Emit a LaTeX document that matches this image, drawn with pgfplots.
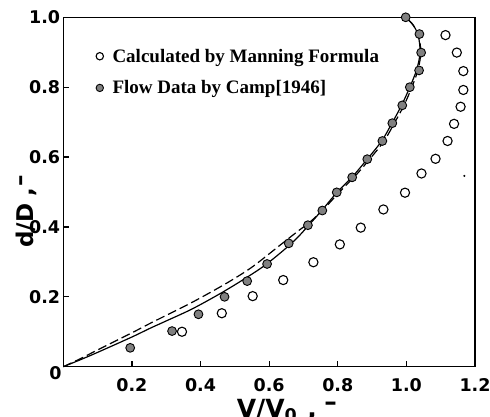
\documentclass[border=0pt]{standalone}
\usepackage{pgfplots}
\pgfplotsset{compat=1.18}
\usepackage{fontspec}
\setmainfont{DejaVu Sans}
\newfontfamily\legfont{Liberation Serif}
\begin{document}
\begin{tikzpicture}
\begin{axis}[
  scale only axis, clip=false,
  width=411.7pt, height=349.4pt,
  xmin=0, xmax=1.2, ymin=0, ymax=1.0,
  axis line style={line width=1.4pt},
  xtick={0.2,0.4,0.6,0.8,1.0,1.2},
  xticklabels={0.2,0.4,0.6,0.8,1.0,1.2},
  ytick={0.2,0.4,0.6,0.8,1.0},
  yticklabels={0.2,0.4,0.6,0.8,1.0},
  tick align=inside,
  major tick length=6pt,
  tick style={line width=1.2pt, black},
  xtick pos=bottom, ytick pos=left,
  /pgf/number format/assume math mode=true,
  ticklabel style={font=\bfseries\fontsize{17.5}{17.5}\selectfont, inner sep=0pt},
  xticklabel style={anchor=north, yshift=-12pt},
  yticklabel style={anchor=east, xshift=-3pt},
  xlabel={V/V\textsubscript{0}\hspace{0.4em},\hspace{0.3em}\raisebox{0.25em}{–}},
  ylabel={d/D\hspace{0.3em},\hspace{0.05em}\raisebox{0.25em}{–}},
  xlabel style={font=\bfseries\fontsize{25}{25}\selectfont, at={(axis description cs:0.543,-0.144)}, anchor=base, inner sep=0pt},
  ylabel style={font=\bfseries\fontsize{23}{23}\selectfont, at={(axis description cs:-0.0736,0.444)}, anchor=base, inner sep=0pt},
  legend style={at={(axis description cs:0,1)}, anchor=north west, xshift=32.6pt, yshift=-29.4pt,
    draw=none, fill=none, inner sep=0pt, column sep=7pt, row sep=13pt,
    font=\legfont\bfseries\fontsize{19}{19}\selectfont},
  legend cell align=left,
  legend image code/.code={\draw[#1,mark size=3.7pt] plot coordinates {(0pt,0pt)};},
]
\addplot[forget plot, black, line width=1.2pt, smooth] coordinates {
(0,0) (0.05,0.02) (0.1,0.041) (0.2,0.085) (0.253,0.11) (0.3,0.131) (0.379,0.167)
(0.476,0.22) (0.573,0.28) (0.632,0.325) (0.68,0.367) (0.72,0.41) (0.755,0.449)
(0.797,0.498) (0.842,0.543) (0.886,0.594) (0.928,0.646) (0.958,0.697)
(0.986,0.748) (1.010,0.8) (1.030,0.85) (1.040,0.9) (1.034,0.95) (1.018,0.98) (0.998,1.0)};
\addplot[forget plot, black, line width=1.2pt, dash pattern=on 9pt off 4pt, smooth] coordinates {
(0,0) (0.05,0.023) (0.1,0.048) (0.2,0.097) (0.253,0.124) (0.3,0.147) (0.379,0.186)
(0.476,0.239) (0.55,0.285) (0.632,0.348) (0.68,0.385) (0.72,0.415) (0.76,0.452) (0.805,0.5)
(0.85,0.545) (0.893,0.594) (0.935,0.646) (0.965,0.697) (0.993,0.748) (1.016,0.8)
(1.034,0.85) (1.042,0.9) (1.035,0.95) (1.018,0.98) (0.998,1.0)};
\addplot[only marks, mark=*, mark size=4.6pt, mark options={fill=white, draw=black, line width=1.1pt}] coordinates {
(1.114,0.949) (1.147,0.899) (1.166,0.846) (1.166,0.792) (1.158,0.744) (1.139,0.695)
(1.120,0.646) (1.085,0.595) (1.044,0.553) (0.996,0.498) (0.933,0.450) (0.867,0.398)
(0.806,0.350) (0.729,0.299) (0.641,0.248) (0.552,0.202) (0.462,0.153) (0.346,0.100)};
\addlegendentry{\rule[-4pt]{0pt}{17pt}Calculated by Manning Formula}
\addplot[only marks, mark=*, mark size=4.4pt, mark options={fill=black!50, draw=black, line width=0.9pt}] coordinates {
(0.998,1.0) (1.038,0.952) (1.043,0.899) (1.037,0.848) (1.010,0.80) (0.988,0.748)
(0.959,0.697) (0.930,0.646) (0.886,0.594) (0.842,0.542) (0.797,0.499) (0.755,0.447)
(0.713,0.405) (0.657,0.353) (0.594,0.294) (0.536,0.245) (0.470,0.200) (0.394,0.150)
(0.317,0.102) (0.195,0.054)};
\addlegendentry{\rule[-4pt]{0pt}{17pt}Flow Data by Camp[1946]}
\addplot[forget plot, only marks, mark=*, mark size=0.8pt, black] coordinates {(1.169,0.546)};
\node[anchor=north east, inner sep=0pt, xshift=-1.5pt, font=\bfseries\fontsize{17.5}{17.5}\selectfont] at (axis cs:0,0) {0};
\end{axis}
\pgfresetboundingbox
\useasboundingbox (-63.3pt,-50.3pt) rectangle (426.7pt,366.7pt);
\end{tikzpicture}
\end{document}
